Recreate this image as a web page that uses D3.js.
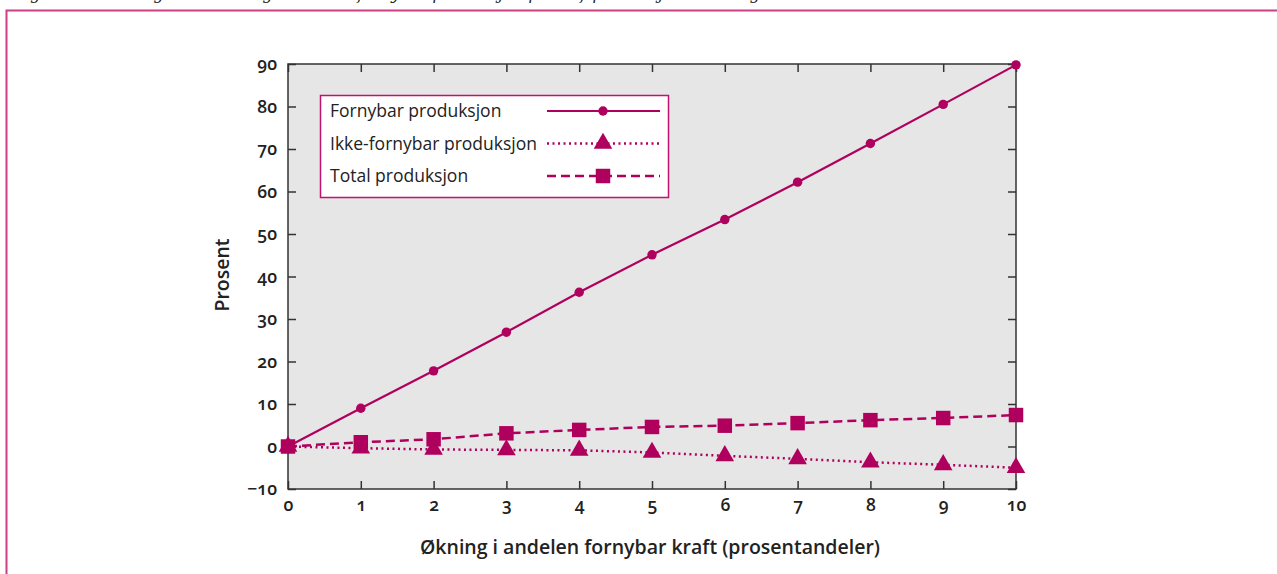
<!DOCTYPE html>
<html>
<head>
<meta charset="utf-8">
<script src="https://cdn.jsdelivr.net/npm/d3@7"></script>
<style>
  body { margin: 0; background: #fff; }
  svg text { font-family: "Open Sans", "Lato", sans-serif; fill: #222; }
  .num { font-variant-numeric: oldstyle-nums; font-feature-settings: "onum"; }
</style>
</head>
<body>
<svg id="chart" width="1277" height="574"></svg>
<script>
// data
var steps = [0, 1, 2, 3, 4, 5, 6, 7, 8, 9, 10];
var fornybar = [0, 9.0, 17.8, 26.9, 36.3, 45.1, 53.4, 62.2, 71.3, 80.5, 89.8];
var ikkeFornybar = [0, -0.4, -0.7, -0.8, -0.9, -1.4, -2.2, -2.9, -3.7, -4.3, -5.0];
var total = [0, 1.0, 1.7, 3.1, 3.9, 4.6, 4.9, 5.5, 6.2, 6.7, 7.4];
var yTicks = [-10, 0, 10, 20, 30, 40, 50, 60, 70, 80, 90];
var seriesNames = ["Fornybar produksjon", "Ikke-fornybar produksjon", "Total produksjon"];

var col = "#b0005e";
var svg = d3.select("#chart");

// frame round the figure, caption is cut off above it (only descenders show)
svg.append("text")
  .attr("x", 14).attr("y", -1.5)
  .style("font-family", "'DejaVu Serif', serif")
  .style("font-style", "italic")
  .style("font-size", "16px")
  .text("Figur 5.3 Virkning av en økning i andelen fornybar produksjon på kraftproduksjonen i Norge");
svg.append("path")
  .attr("d", "M6.5,574 V10.5 H1277")
  .attr("fill", "none")
  .attr("stroke", "#cc3f84")
  .attr("stroke-width", 2);

// plot area (don't call it "top", window.top is taken)
var pLeft = 288, pRight = 1016, pTop = 64, pBottom = 489;

var x = d3.scaleLinear().domain([0, 10]).range([pLeft, pRight]);
var y = d3.scaleLinear().domain([-10, 90]).range([pBottom, pTop]);

// plot background
svg.append("rect")
  .attr("x", pLeft).attr("y", pTop)
  .attr("width", pRight - pLeft).attr("height", pBottom - pTop)
  .attr("fill", "#e6e6e6");

// axes, ticks point inwards
function styleAxis(g) {
  g.select(".domain").remove();
  g.selectAll(".tick line").attr("stroke", "#333").attr("stroke-width", 1.5);
  g.selectAll(".tick text")
    .attr("class", "num")
    .style("font-size", "17.5px")
    .style("font-weight", 600)
    .attr("fill", "#222");
}

svg.append("g")
  .attr("transform", "translate(" + pLeft + ",0)")
  .call(d3.axisLeft(y).tickValues(yTicks).tickSize(-8).tickPadding(11).tickFormat(d3.format("d")))
  .call(styleAxis);

svg.append("g")
  .attr("transform", "translate(" + pRight + ",0)")
  .call(d3.axisRight(y).tickValues(yTicks).tickSize(-8).tickFormat(""))
  .call(styleAxis);

svg.append("g")
  .attr("transform", "translate(0," + pBottom + ")")
  .call(d3.axisBottom(x).tickValues(steps).tickSize(-8).tickPadding(10).tickFormat(d3.format("d")))
  .call(styleAxis);

svg.append("g")
  .attr("transform", "translate(0," + pTop + ")")
  .call(d3.axisTop(x).tickValues(steps).tickSize(-8).tickFormat(""))
  .call(styleAxis);

svg.append("rect")
  .attr("x", pLeft).attr("y", pTop)
  .attr("width", pRight - pLeft).attr("height", pBottom - pTop)
  .attr("fill", "none")
  .attr("stroke", "#333")
  .attr("stroke-width", 1.5);

// axis titles
svg.append("text")
  .attr("x", 650).attr("y", 554)
  .attr("text-anchor", "middle")
  .style("font-size", "19.5px")
  .style("font-weight", 600)
  .text("Økning i andelen fornybar kraft (prosentandeler)");

svg.append("text")
  .attr("transform", "translate(229,275) rotate(-90)")
  .attr("text-anchor", "middle")
  .style("font-size", "19.5px")
  .style("font-weight", 600)
  .text("Prosent");

// series
var series = [
  { name: seriesNames[0], values: fornybar, dash: null, symbol: d3.symbolCircle, size: 70 },
  { name: seriesNames[1], values: ikkeFornybar, dash: "2,3.5", symbol: d3.symbolTriangle, size: 150 },
  { name: seriesNames[2], values: total, dash: "9,5", symbol: d3.symbolSquare, size: 210 }
];

var line = d3.line()
  .x(function(d, i) { return x(steps[i]); })
  .y(function(d) { return y(d); });

// draw lines first, then markers on top
series.forEach(function(s) {
  svg.append("path")
    .datum(s.values)
    .attr("d", line)
    .attr("fill", "none")
    .attr("stroke", col)
    .attr("stroke-width", s.dash ? 2.5 : 2.2)
    .attr("stroke-dasharray", s.dash);
});

series.slice().reverse().forEach(function(s) {
  svg.append("g").selectAll("path")
    .data(s.values)
    .enter()
    .append("path")
    .attr("transform", function(d, i) { return "translate(" + x(steps[i]) + "," + y(d) + ")"; })
    .attr("d", d3.symbol().type(s.symbol).size(s.size))
    .attr("fill", col);
});

// legend
var lg = svg.append("g");
lg.append("rect")
  .attr("x", 320.5).attr("y", 95.5)
  .attr("width", 348).attr("height", 102)
  .attr("fill", "#fff")
  .attr("stroke", "#c0126e")
  .attr("stroke-width", 1.5);

series.forEach(function(s, i) {
  var ly = 111 + i * 32.5;
  lg.append("text")
    .attr("x", 330).attr("y", ly + 6)
    .style("font-size", "17.5px")
    .style("font-weight", 500)
    .text(s.name);
  lg.append("line")
    .attr("x1", 547).attr("x2", 660)
    .attr("y1", ly).attr("y2", ly)
    .attr("stroke", col)
    .attr("stroke-width", s.dash ? 2.5 : 2.2)
    .attr("stroke-dasharray", s.dash);
  lg.append("path")
    .attr("transform", "translate(603," + ly + ")")
    .attr("d", d3.symbol().type(s.symbol).size(s.size))
    .attr("fill", col);
});
</script>
</body>
</html>
